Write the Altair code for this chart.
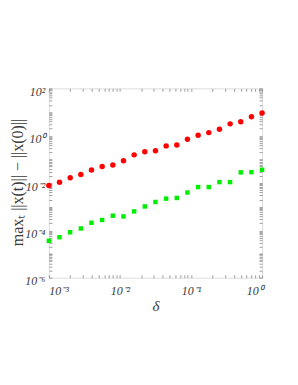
import altair as alt
import pandas as pd
import numpy as np

delta_exp = [-3 + 0.15 * k for k in range(21)]
red_log = [-2.10, -1.97, -1.78, -1.64, -1.45, -1.30, -1.24, -1.06, -0.81, -0.68,
           -0.64, -0.43, -0.39, -0.15, 0.02, 0.13, 0.27, 0.50, 0.59, 0.80, 0.96]
green_log = [-4.44, -4.29, -4.08, -3.92, -3.68, -3.56, -3.38, -3.41, -3.20, -2.99,
             -2.80, -2.66, -2.63, -2.40, -2.17, -2.17, -1.96, -1.96, -1.55, -1.54, -1.44]

delta = [10 ** e for e in delta_exp]
df = pd.DataFrame({
    "delta": delta * 2,
    "val": [10 ** v for v in red_log] + [10 ** v for v in green_log],
    "series": ["red"] * 21 + ["green"] * 21,
})

sup = {-6: "⁻⁶", -4: "⁻⁴", -3: "⁻³", -2: "⁻²", -1: "⁻¹", 0: "⁰", 2: "²"}
expr = "''"
for k, s in sup.items():
    expr = f"(round(log(datum.value)/LN10)=={k}) ? '10{s}' : ({expr})"

x_major = [1e-3, 1e-2, 1e-1, 1]
y_major = [1e-6, 1e-4, 1e-2, 1, 1e2]
x_minor = [m * 10 ** d for d in range(-3, 0) for m in range(1, 11)]
y_minor = [m * 10 ** d for d in range(-6, 2) for m in range(1, 11)]

xs = alt.Scale(type="log", domain=[1e-3, 1], nice=False)
ys = alt.Scale(type="log", domain=[1e-6, 1e2], nice=False)

font = "Liberation Serif"
gray = "#888888"
txt = "#3a3a3a"

main_x = alt.Axis(values=x_major, labelExpr=expr, tickSize=0, domain=False, grid=False,
                  labelFont=font, labelFontSize=12, labelFontStyle="italic", labelColor=txt,
                  labelPadding=8, title="δ", titleFont=font, titleFontSize=15,
                  titleFontStyle="italic", titleFontWeight="normal", titleColor=txt,
                  titlePadding=2)
main_y = alt.Axis(values=y_major, labelExpr=expr, tickSize=0, domain=False, grid=False,
                  labelFont=font, labelFontSize=12, labelFontStyle="italic", labelColor=txt,
                  labelPadding=4, labelOffset=3,
                  title="maxₜ ||x(t)|| − ||x(0)||", titleFont=font, titleFontSize=16,
                  titleFontWeight="normal", titleColor=txt,
                  titleX=-31, titleY=94, titleAngle=270, titleAlign="center",
                  titleBaseline="middle")

def tick_axis(orient, vals):
    return alt.Axis(orient=orient, values=vals, labels=False, title=None, domain=False,
                    grid=False, tickSize=3, offset=-3, tickColor=gray, tickWidth=0.8)

red = alt.Chart(df).transform_filter("datum.series=='red'").mark_circle(
    size=30, color="#ff0000", opacity=1).encode(
    x=alt.X("delta:Q", scale=xs, axis=main_x),
    y=alt.Y("val:Q", scale=ys, axis=main_y),
)
green = alt.Chart(df).transform_filter("datum.series=='green'").mark_square(
    size=20, color="#00ee00", opacity=1).encode(
    x=alt.X("delta:Q", scale=xs, axis=None),
    y=alt.Y("val:Q", scale=ys, axis=None),
)
t1 = alt.Chart(df).mark_point(opacity=0).encode(
    x=alt.X("delta:Q", scale=xs, axis=tick_axis("bottom", x_minor)),
    y=alt.Y("val:Q", scale=ys, axis=tick_axis("left", y_minor)),
)
t2 = alt.Chart(df).mark_point(opacity=0).encode(
    x=alt.X("delta:Q", scale=xs, axis=tick_axis("top", x_minor)),
    y=alt.Y("val:Q", scale=ys, axis=tick_axis("right", y_minor)),
)

chart = alt.layer(red, green, t1, t2).resolve_axis(x="independent", y="independent").properties(
    width=214, height=190,
    autosize=alt.AutoSizeParams(type="none"),
    padding={"left": 41, "top": 80, "right": 28, "bottom": 99},
).configure_view(stroke=gray, strokeWidth=1).configure(background="white")

chart.save("out.html", embed_options={"renderer": "svg", "actions": False})
